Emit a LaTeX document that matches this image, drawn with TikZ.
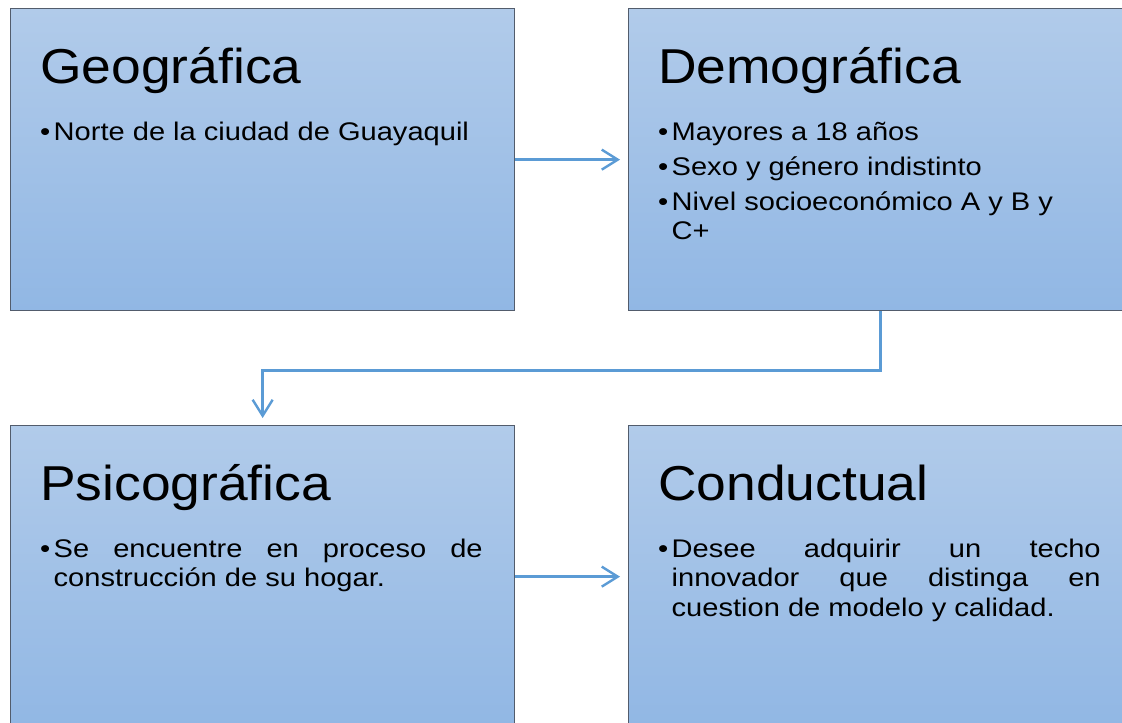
\documentclass[tikz,border=0pt]{standalone}
\usepackage{fontspec}
\setmainfont[FakeStretch=1.14]{Liberation Sans}
\newfontfamily\titlefont[FakeStretch=1.09]{Liberation Sans}
\usetikzlibrary{calc, arrows.meta}

\definecolor{paneltop}{RGB}{177,203,234}
\definecolor{panelbottom}{RGB}{145,183,228}
\definecolor{panelline}{RGB}{82,92,108}
\definecolor{linkblue}{RGB}{91,155,213}

\newcommand{\itemdot}{\makebox[13.5pt][l]{•}}
\newcommand{\itemgap}{\hspace*{13.5pt}}

\begin{document}
\begin{tikzpicture}[x=1pt, y=-1pt,
        panel/.style={draw=panelline, line width=1.3pt, top color=paneltop, bottom color=panelbottom,
            minimum width=504pt, minimum height=302pt, inner sep=0pt, anchor=north west},
        heading/.style={anchor=base west, inner sep=0pt, font=\titlefont\fontsize{49}{57}\selectfont},
        body/.style={anchor=north west, inner sep=0pt, align=left, font=\fontsize{25.5}{29.5}\selectfont},
        link/.style={draw=linkblue, line width=2.4pt, -{Straight Barb[length=16pt, width=20pt]}}]
        \path [use as bounding box, clip] (0,0) rectangle (1122,723);

        \node [panel] (geo) at (10,8) {};
        \node [panel] (demo) at (628,8) {};
        \node [panel] (psico) at (10,425) {};
        \node [panel] (cond) at (628,425) {};

        \node [heading] (geo title) at ($(geo.north west)+(30,75)$) {Geográfica};
        \node [heading] (demo title) at ($(demo.north west)+(30,75)$) {Demográfica};
        \node [heading] (psico title) at ($(psico.north west)+(30,75)$) {Psicográfica};
        \node [heading] (cond title) at ($(cond.north west)+(30,75)$) {Conductual};

        \node [body] (geo text) at ($(geo.north west)+(30,112)$)
            {\rule{0pt}{20pt}\itemdot Norte de la ciudad de Guayaquil};
        \node [body] (demo text) at ($(demo.north west)+(30,112)$)
            {\rule{0pt}{20pt}\itemdot Mayores a 18 años\\[5.5pt]
             \itemdot Sexo y género indistinto\\[5.5pt]
             \itemdot Nivel socioeconómico A y B y\\
             \itemgap C+};
        \node [body] (psico text) at ($(psico.north west)+(30,112)$)
            {\rule{0pt}{20pt}\itemdot\makebox[429pt][s]{Se encuentre en proceso de}\\
             \itemgap construcción de su hogar.};
        \node [body] (cond text) at ($(cond.north west)+(30,112)$)
            {\rule{0pt}{20pt}\itemdot\makebox[429pt][s]{Desee adquirir un techo}\\
             \itemgap\makebox[429pt][s]{innovador que distinga en}\\
             \itemgap cuestion de modelo y calidad.};

        \draw [link] (geo.east) to ([xshift=-8pt]demo.west);
        \draw [link] (psico.east) to ([xshift=-8pt]cond.west);
        \draw [link] (demo.south) -- ++(0,59) -| ([yshift=7pt]psico.north);
    \end{tikzpicture}
\end{document}
